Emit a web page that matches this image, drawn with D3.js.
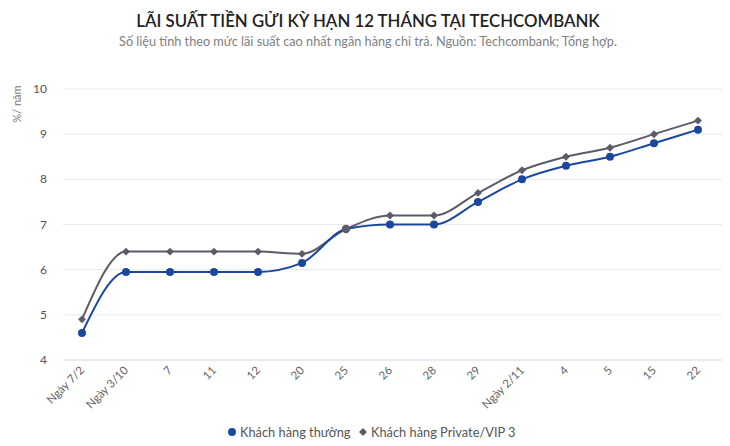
<!DOCTYPE html>
<html>
<head>
<meta charset="utf-8">
<script src="https://cdn.jsdelivr.net/npm/d3@7"></script>
<style>
  body { margin: 0; background: #fff; }
  svg { display: block; font-family: Lato, "Open Sans", sans-serif; }
</style>
</head>
<body>
<div id="chart"></div>
<script>
// data
const dates = ["Ngày 7/2", "Ngày 3/10", "7", "11", "12", "20", "25", "26", "28", "29", "Ngày 2/11", "4", "5", "15", "22"];
const thuong = [4.6, 5.95, 5.95, 5.95, 5.95, 6.15, 6.9, 7.0, 7.0, 7.5, 8.0, 8.3, 8.5, 8.8, 9.1];
const vip = [4.9, 6.4, 6.4, 6.4, 6.4, 6.35, 6.9, 7.2, 7.2, 7.7, 8.2, 8.5, 8.7, 9.0, 9.3];
const yTicks = [4, 5, 6, 7, 8, 9, 10];
const seriesNames = ["Khách hàng thường", "Khách hàng Private/VIP 3"];

const width = 730;
const height = 446;
const blue = "#1b479e";
const gray = "#5b5b69";

const svg = d3.select("#chart")
    .append("svg")
        .attr("width", width)
        .attr("height", height);

const x = d3.scaleBand()
    .domain(dates)
    .range([60, 720]);

const y = d3.scaleLinear()
    .domain([4, 10])
    .range([360, 89]);

const cx = d => x(d) + x.bandwidth() / 2;

// title
svg.append("text")
    .attr("x", 368).attr("y", 27)
    .attr("text-anchor", "middle")
    .attr("font-size", 16.8)
    .attr("font-weight", 600)
    .attr("fill", "#222")
    .text("LÃI SUẤT TIỀN GỬI KỲ HẠN 12 THÁNG TẠI TECHCOMBANK");

svg.append("text")
    .attr("x", 368).attr("y", 46)
    .attr("text-anchor", "middle")
    .attr("font-size", 12.7)
    .attr("fill", "#808080")
    .text("Số liệu tính theo mức lãi suất cao nhất ngân hàng chi trả. Nguồn: Techcombank; Tổng hợp.");

// grid
svg.append("g")
    .selectAll("line")
    .data(yTicks)
    .enter()
    .append("line")
        .attr("x1", 63).attr("x2", 722)
        .attr("y1", d => y(d)).attr("y2", d => y(d))
        .attr("stroke", d => d == 4 ? "#d8d8e0" : "#e8e8ee")
        .attr("stroke-width", 1);

// y labels
svg.append("g")
    .selectAll("text")
    .data(yTicks)
    .enter()
    .append("text")
        .attr("x", 47)
        .attr("y", d => y(d) + 4)
        .attr("text-anchor", "end")
        .attr("font-size", 12)
        .attr("fill", "#555")
        .text(d => d);

svg.append("text")
    .attr("transform", "translate(21,104) rotate(-90)")
    .attr("text-anchor", "middle")
    .attr("font-size", 11)
    .attr("fill", "#777")
    .text("%/ năm");

// x labels
svg.append("g")
    .selectAll("text")
    .data(dates)
    .enter()
    .append("text")
        .attr("transform", d => "translate(" + (cx(d) + 3) + ",371) rotate(-45)")
        .attr("text-anchor", "end")
        .attr("font-size", 11.5)
        .attr("fill", "#666")
        .text(d => d);

// lines
const line = d3.line()
    .x((d, i) => cx(dates[i]))
    .y(d => y(d))
    .curve(d3.curveMonotoneX);

svg.append("path")
    .attr("d", line(vip))
    .attr("fill", "none")
    .attr("stroke", gray)
    .attr("stroke-width", 2);

svg.append("path")
    .attr("d", line(thuong))
    .attr("fill", "none")
    .attr("stroke", blue)
    .attr("stroke-width", 2);

// markers
const diamond = d3.symbol().type(d3.symbolDiamond2).size(40);

svg.append("g")
    .selectAll("path")
    .data(vip)
    .enter()
    .append("path")
        .attr("d", diamond)
        .attr("transform", (d, i) => "translate(" + cx(dates[i]) + "," + y(d) + ")")
        .attr("fill", gray);

svg.append("g")
    .selectAll("circle")
    .data(thuong)
    .enter()
    .append("circle")
        .attr("cx", (d, i) => cx(dates[i]))
        .attr("cy", d => y(d))
        .attr("r", (d, i) => dates[i] == "25" ? 0 : 4)
        .attr("fill", blue);

// the 25 point is drawn over by the VIP marker in the original
svg.append("circle")
    .attr("cx", cx("25"))
    .attr("cy", y(vip[6]))
    .attr("r", 4.2)
    .attr("fill", gray);

// legend
const legend = svg.append("g");
legend.append("circle")
    .attr("cx", 232).attr("cy", 432).attr("r", 4)
    .attr("fill", blue);
legend.append("text")
    .attr("x", 240).attr("y", 436.5)
    .attr("font-size", 12.8)
    .attr("fill", "#555")
    .text(seriesNames[0]);
legend.append("path")
    .attr("d", diamond)
    .attr("transform", "translate(363,432)")
    .attr("fill", gray);
legend.append("text")
    .attr("x", 371).attr("y", 436.5)
    .attr("font-size", 12.8)
    .attr("fill", "#555")
    .text(seriesNames[1]);
</script>
</body>
</html>
